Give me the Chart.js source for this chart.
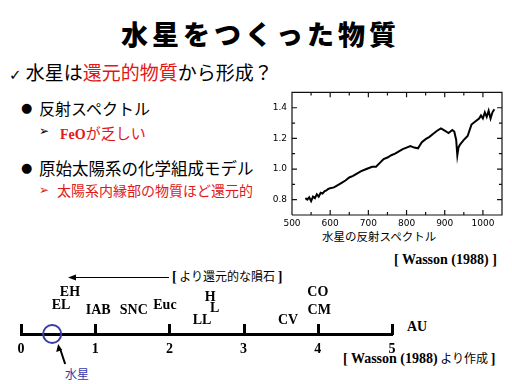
<!DOCTYPE html>
<html>
<head>
<meta charset="utf-8">
<script src="https://cdn.jsdelivr.net/npm/chart.js@4.4.1/dist/chart.umd.min.js"></script>
<style>
html, body { margin: 0; padding: 0; background: #fff; }
body { width: 512px; height: 384px; position: relative; overflow: hidden; font-family: "Noto Sans CJK JP", sans-serif; color: #000; }
.t { position: absolute; white-space: nowrap; line-height: 1; }
.red { color: #e01818; }
.serif { font-family: "Liberation Serif", serif; font-weight: bold; }
canvas { position: absolute; }
</style>
</head>
<body>
<div class="t" style="left:121px;top:20px;font-size:27px;font-weight:900;letter-spacing:4px;">水星をつくった物質</div>
<div class="t" style="left:9px;top:62px;font-size:19px;"><span style="font-family:'DejaVu Sans';font-size:15px;">✓</span> 水星は<span class="red">還元的物質</span>から形成？</div>

<div class="t" style="left:21px;top:101px;font-size:13px;font-family:'DejaVu Sans';">●</div>
<div class="t" style="left:39px;top:100px;font-size:16px;">反射スペクトル</div>
<div class="t" style="left:39px;top:125px;font-size:12px;font-family:'DejaVu Sans';">➢</div>
<div class="t red" style="left:60px;top:125px;font-size:15px;"><span class="serif" style="font-size:14px;">FeO</span>が乏しい</div>

<div class="t" style="left:21px;top:161px;font-size:13px;font-family:'DejaVu Sans';">●</div>
<div class="t" style="left:39px;top:160px;font-size:16.5px;">原始太陽系の化学組成モデル</div>
<div class="t red" style="left:39px;top:184px;font-size:12px;font-family:'DejaVu Sans';">➢</div>
<div class="t red" style="left:57px;top:183px;font-size:14px;">太陽系内縁部の物質ほど還元的</div>

<div class="t" style="left:322px;top:231px;font-size:11.5px;">水星の反射スペクトル</div>
<div class="t serif" style="left:394px;top:253px;font-size:14px;">[ Wasson (1988) ]</div>

<div class="t" style="left:172px;top:270px;font-size:12px;"><span class="serif" style="font-size:14px;">[</span> より還元的な隕石 <span class="serif" style="font-size:14px;">]</span></div>
<div class="t serif" style="left:407px;top:320px;font-size:14px;">AU</div>
<div class="t" style="left:343px;top:352px;font-size:12px;"><span class="serif" style="font-size:14px;">[ Wasson (1988)</span> より作成 <span class="serif" style="font-size:14px;">]</span></div>
<div class="t" style="left:65px;top:368px;font-size:12px;color:#3a3aa8;">水星</div>

<canvas id="spec" width="250" height="148" style="left:262px;top:82px;"></canvas>
<canvas id="au" width="512" height="131" style="left:0;top:253px;"></canvas>

<script>
// reflectance spectrum of Mercury (wavelength nm, relative reflectance)
const wavelength = [535, 540, 545, 550, 555, 560, 565, 570, 575, 580, 585, 590, 595, 600,
  610, 620, 630, 640, 650, 660, 670, 680, 690, 700, 710, 720, 730, 740, 750, 760, 770, 780,
  790, 800, 810, 820, 830, 840, 850, 860, 870, 880, 890, 900, 910, 920, 925, 930, 933, 936,
  940, 950, 960, 970, 980, 990, 995, 1000, 1005, 1010, 1015, 1020, 1025, 1030];
const reflectance = [0.81, 0.80, 0.815, 0.79, 0.82, 0.81, 0.835, 0.82, 0.845, 0.84, 0.855, 0.86, 0.87, 0.875,
  0.88, 0.895, 0.91, 0.925, 0.945, 0.955, 0.97, 0.985, 0.995, 1.005, 1.015, 1.015, 1.04, 1.065, 1.075, 1.09, 1.10, 1.115,
  1.13, 1.14, 1.15, 1.14, 1.135, 1.175, 1.195, 1.21, 1.23, 1.25, 1.265, 1.25, 1.235, 1.255, 1.245, 1.19, 1.09, 1.14,
  1.16, 1.19, 1.215, 1.29, 1.31, 1.33, 1.35, 1.33, 1.37, 1.34, 1.38, 1.33, 1.37, 1.39];
const specXRange = [500, 1050];
const specYRange = [0.7, 1.5];
const specXLabels = [500, 600, 700, 800, 900, 1000];
const specYLabels = [0.8, 1.0, 1.2, 1.4];
const specXMarks = [550, 600, 650, 700, 750, 800, 850, 900, 950, 1000];
const specYMarks = [0.8, 0.9, 1.0, 1.1, 1.2, 1.3, 1.4];

// meteorite groups against heliocentric distance (AU)
const meteorites = ['EH', 'EL', 'IAB', 'SNC', 'Euc', 'H', 'L', 'LL', 'CV', 'CO', 'CM'];
const meteoriteAU = [0.66, 0.54, 1.04, 1.52, 1.94, 2.55, 2.61, 2.44, 3.6, 4.0, 4.02];
const labelRow = [42, 29, 24, 24, 29, 37, 26, 14, 14, 42, 24];
const mercuryAU = 0.42;
const auTicks = [0, 1, 2, 3, 4, 5];
const reducedArrow = [1.99, 0.63];
const reducedArrowRow = 57;

// plot frame and inward tick marks, as line segments in data units
const [x0, x1] = specXRange, [y0, y1] = specYRange;
const frameBox = [{ x: x0, y: y0 }, { x: x1, y: y0 }, { x: x1, y: y1 }, { x: x0, y: y1 }, { x: x0, y: y0 }];
const tickSegs = [];
specXMarks.forEach(v => {
  const len = v % 100 === 0 ? 0.032 : 0.02;
  tickSegs.push({ x: v, y: y0 }, { x: v, y: y0 + len }, { x: v, y: null });
  tickSegs.push({ x: v, y: y1 }, { x: v, y: y1 - len }, { x: v, y: null });
});
specYMarks.forEach(v => {
  const len = Math.round(v * 10) % 2 === 0 ? 13 : 8;
  tickSegs.push({ x: x0, y: v }, { x: x0 + len, y: v }, { x: x0, y: null });
  tickSegs.push({ x: x1, y: v }, { x: x1 - len, y: v }, { x: x1, y: null });
});

new Chart(document.getElementById('spec'), {
  type: 'scatter',
  data: {
    datasets: [{
      data: wavelength.map((w, i) => ({ x: w, y: reflectance[i] })),
      showLine: true,
      borderColor: '#000',
      borderWidth: 2,
      pointRadius: 0,
      tension: 0
    }, {
      data: frameBox,
      showLine: true,
      borderColor: '#111',
      borderWidth: 1.2,
      pointRadius: 0,
      clip: false
    }, {
      data: tickSegs,
      showLine: true,
      spanGaps: false,
      borderColor: '#111',
      borderWidth: 1.2,
      pointRadius: 0,
      clip: false
    }]
  },
  options: {
    responsive: false,
    animation: false,
    devicePixelRatio: 1,
    layout: { padding: { top: 4, right: 10, left: 0, bottom: 0 } },
    plugins: { legend: { display: false }, tooltip: { enabled: false } },
    scales: {
      x: {
        min: x0, max: x1,
        afterBuildTicks: s => { s.ticks = specXLabels.map(v => ({ value: v })); },
        afterFit: s => { s.height = 15; },
        grid: { display: false, drawTicks: false },
        border: { display: false },
        ticks: { color: '#000', font: { family: 'DejaVu Sans', size: 9 }, padding: 3, maxRotation: 0, autoSkip: false,
          callback: v => String(v) }
      },
      y: {
        min: y0, max: y1,
        afterBuildTicks: s => { s.ticks = specYLabels.map(v => ({ value: v })); },
        afterFit: s => { s.width = 30; },
        grid: { display: false, drawTicks: false },
        border: { display: false },
        ticks: { color: '#000', font: { family: 'DejaVu Sans', size: 9 }, padding: 5, autoSkip: false,
          callback: v => v.toFixed(1) }
      }
    }
  }
});

const auDecor = {
  id: 'auDecor',
  afterDraw(chart) {
    const { ctx, chartArea: a } = chart;
    const x = chart.scales.x, y = chart.scales.y;
    ctx.save();
    ctx.fillStyle = '#000';
    // upright ticks
    auTicks.forEach(v => {
      const px = Math.round(x.getPixelForValue(v));
      ctx.fillRect(px - 1, Math.round(a.bottom) - 10, 3, 11);
    });
    // meteorite labels
    ctx.font = 'bold 14px "Liberation Serif", serif';
    ctx.textAlign = 'center';
    ctx.textBaseline = 'middle';
    chart.getDatasetMeta(0).data.forEach((p, i) => {
      ctx.fillText(meteorites[i], p.x, p.y);
    });
    // arrow pointing to Mercury
    const m = chart.getDatasetMeta(1).data[0];
    ctx.strokeStyle = '#000';
    ctx.lineWidth = 2;
    ctx.beginPath();
    ctx.moveTo(m.x + 13, m.y + 30);
    ctx.lineTo(m.x + 8, m.y + 15);
    ctx.stroke();
    ctx.beginPath();
    ctx.moveTo(m.x + 6, m.y + 10);
    ctx.lineTo(m.x + 4, m.y + 18);
    ctx.lineTo(m.x + 10, m.y + 16);
    ctx.closePath();
    ctx.fill();
    // "more reduced" arrow
    const ax0 = Math.round(x.getPixelForValue(reducedArrow[0]));
    const ax1 = Math.round(x.getPixelForValue(reducedArrow[1]));
    const ay = Math.round(y.getPixelForValue(reducedArrowRow));
    ctx.fillRect(ax1 + 6, ay, ax0 - ax1 - 6, 1);
    ctx.beginPath();
    ctx.moveTo(ax1, ay + 0.5);
    ctx.lineTo(ax1 + 8, ay - 2.5);
    ctx.lineTo(ax1 + 8, ay + 3.5);
    ctx.closePath();
    ctx.fill();
    ctx.restore();
  }
};

new Chart(document.getElementById('au'), {
  type: 'scatter',
  data: {
    datasets: [{
      data: meteorites.map((n, i) => ({ x: meteoriteAU[i], y: labelRow[i] })),
      pointRadius: 0
    }, {
      data: [{ x: mercuryAU, y: 0 }],
      pointRadius: 9,
      borderWidth: 2,
      borderColor: '#3a3aa8',
      backgroundColor: 'rgba(0,0,0,0)',
      clip: false
    }]
  },
  options: {
    responsive: false,
    animation: false,
    devicePixelRatio: 1,
    layout: { padding: { top: 0, right: 120, left: 21, bottom: 0 } },
    plugins: { legend: { display: false }, tooltip: { enabled: false } },
    scales: {
      x: {
        min: 0, max: 5,
        afterBuildTicks: s => { s.ticks = auTicks.map(v => ({ value: v })); },
        afterFit: s => { s.height = 50; },
        grid: { display: false, drawTicks: false },
        border: { display: true, color: '#000', width: 3 },
        ticks: { color: '#000', font: { family: 'Liberation Serif', size: 14, weight: 'bold' }, padding: 7, maxRotation: 0 }
      },
      y: { display: false, min: 0, max: 70 }
    }
  },
  plugins: [auDecor]
});
</script>
</body>
</html>
